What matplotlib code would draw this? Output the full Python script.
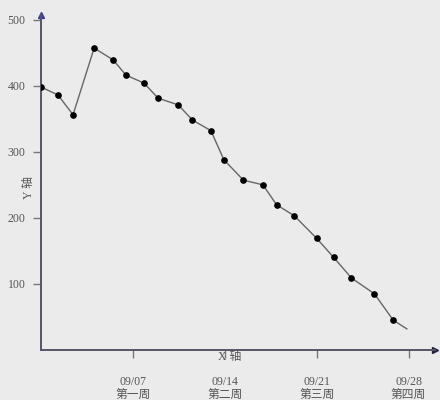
import matplotlib
matplotlib.use("Agg")
import matplotlib.pyplot as plt

# data: x = days after 08/31
days = [0, 1.29, 2.44, 4.05, 5.5, 6.47, 7.84, 8.93, 10.45, 11.54, 12.94, 13.93,
        15.42, 16.9, 17.94, 19.3, 21.0, 22.3, 23.65, 25.4, 26.84, 27.87]
values = [398, 386, 356, 457, 439, 416, 404, 381, 371, 348, 332, 288,
          257, 250, 220, 203, 169, 140, 109, 85, 45, 32]
xtick_pos = [7, 14, 21, 28]
xtick_labels = ["09/07\n第一周", "09/14\n第二周", "09/21\n第三周", "09/28\n第四周"]
ytick_pos = [100, 200, 300, 400, 500]

fam = ["Liberation Serif", "Noto Sans CJK SC"]
bg = "#ebebeb"

fig = plt.figure(figsize=(4.4, 4.0), dpi=100, facecolor=bg)
ax = fig.add_axes([0.0932, 0.125, 0.895, 0.8375])
ax.set_facecolor(bg)

ax.plot(days, values, color="#666666", lw=1.0, zorder=2)
ax.plot(days[:-1], values[:-1], "o", color="black", ms=3.8, zorder=3)

ax.set_xlim(0, 30)
ax.set_ylim(0, 507)

for s in ["top", "right"]:
    ax.spines[s].set_visible(False)
for s in ["left", "bottom"]:
    ax.spines[s].set_color("#555566")
    ax.spines[s].set_linewidth(1.4)

ax.plot(1, 0, ">", color="#222244", ms=5, transform=ax.transAxes, clip_on=False)
ax.plot(0, 1, "^", color="#3a3aa0", ms=5, transform=ax.transAxes, clip_on=False)

ax.set_yticks(ytick_pos)
ax.set_yticklabels([str(v) for v in ytick_pos], family=fam, fontsize=8.5, color="#555555")
ax.set_xticks(xtick_pos)
ax.set_xticklabels(xtick_labels, family=fam, fontsize=8.5, color="#555555", linespacing=1.1)
ax.tick_params(axis="y", length=6, width=1, color="#777777", pad=5)
ax.tick_params(axis="x", length=6, width=1, color="#777777", pad=13)

ax.text(0.48, -0.022, "X 轴", transform=ax.transAxes, ha="center", va="center",
        family=fam, fontsize=8.5, color="#555555")
ax.text(-0.03, 0.485, "Y 轴", transform=ax.transAxes, ha="center", va="center",
        rotation=90, family=fam, fontsize=8.5, color="#555555")

fig.savefig("out.png", dpi=100, facecolor=bg)
